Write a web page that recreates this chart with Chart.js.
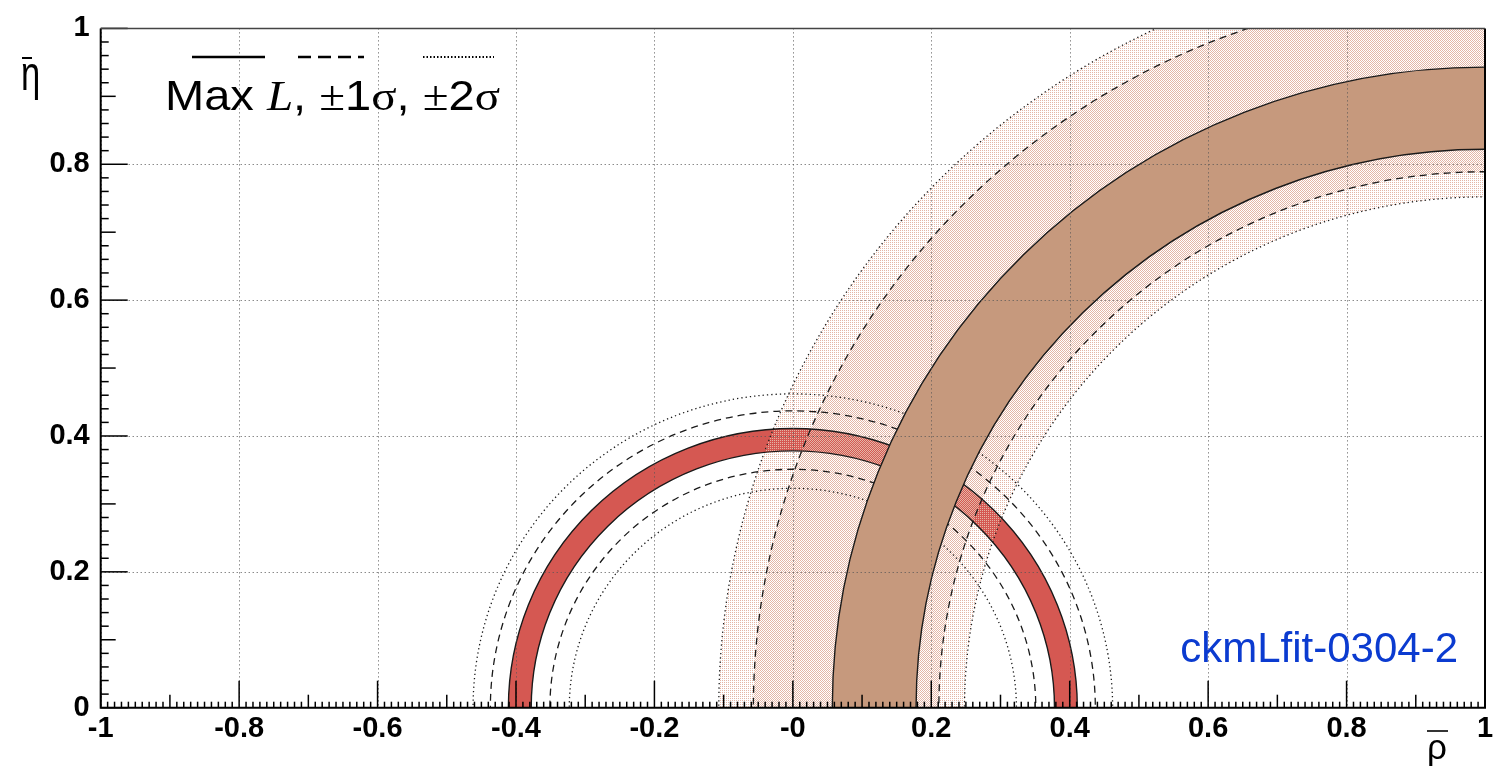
<!DOCTYPE html>
<html><head><meta charset="utf-8">
<script src="https://cdn.jsdelivr.net/npm/chart.js@4"></script>
<style>html,body{margin:0;padding:0;background:#fff;}canvas{display:block}</style>
</head><body>
<canvas id="c" width="1504" height="774"></canvas>
<script>
// ---- data ----
const xTickValues = [-1, -0.8, -0.6, -0.4, -0.2, 0, 0.2, 0.4, 0.6, 0.8, 1];
const xTickLabels = ['-1', '-0.8', '-0.6', '-0.4', '-0.2', '-0', '0.2', '0.4', '0.6', '0.8', '1'];
const yTickValues = [0, 0.2, 0.4, 0.6, 0.8, 1];
const yTickLabels = ['0', '0.2', '0.4', '0.6', '0.8', '1'];

const bandNames   = ['|Vub/Vcb|', 'Δmd'];
const bandCenterX = [0, 1];
const bandCenterY = [0, 0];
const maxLInner   = [0.378, 0.822];
const maxLOuter   = [0.411, 0.943];
const sigma1Inner = [0.351, 0.789];
const sigma1Outer = [0.437, 1.057];
const sigma2Inner = [0.323, 0.752];
const sigma2Outer = [0.462, 1.107];

const tagText = 'ckmLfit-0304-2';

// ---- styles ----
const RED = 'rgb(213,88,82)';
const BROWN = 'rgb(198,153,125)';
const DOT = 'rgb(228,182,166)';

function makePattern(dense) {
  const c = document.createElement('canvas');
  c.width = 2; c.height = 2;
  const g = c.getContext('2d');
  g.fillStyle = DOT;
  g.fillRect(0, 0, 1, 1);
  if (dense) g.fillRect(1, 1, 1, 1);
  return g.createPattern(c, 'repeat');
}

const bandPlugin = {
  id: 'bands',
  afterDatasetsDraw(chart) {
    const ctx = chart.ctx, a = chart.chartArea;
    const xs = chart.scales.x, ys = chart.scales.y;
    const px = v => xs.getPixelForValue(v), py = v => ys.getPixelForValue(v);
    const sparse = makePattern(false), dense = makePattern(true);
    function ell(i, r) {
      const cx = bandCenterX[i], cy = bandCenterY[i];
      return {cx: px(cx), cy: py(cy),
              rx: Math.abs(px(cx + r) - px(cx)), ry: Math.abs(py(cy + r) - py(cy))};
    }
    function annulus(i, r1, r2, style) {
      const e1 = ell(i, r1), e2 = ell(i, r2);
      ctx.beginPath();
      ctx.ellipse(e2.cx, e2.cy, e2.rx, e2.ry, 0, 0, 2 * Math.PI);
      ctx.moveTo(e1.cx + e1.rx, e1.cy);
      ctx.ellipse(e1.cx, e1.cy, e1.rx, e1.ry, 0, 0, 2 * Math.PI);
      ctx.fillStyle = style;
      ctx.fill('evenodd');
    }
    function ring(i, r, dash, lw) {
      const e = ell(i, r);
      ctx.beginPath();
      ctx.ellipse(e.cx, e.cy, e.rx, e.ry, 0, 0, 2 * Math.PI);
      ctx.setLineDash(dash);
      ctx.lineWidth = lw;
      ctx.strokeStyle = '#1a1a1a';
      ctx.stroke();
      ctx.setLineDash([]);
    }
    function lines(i) {
      ring(i, sigma2Inner[i], [1.3, 3], 1.3);
      ring(i, sigma2Outer[i], [1.3, 3], 1.3);
      ring(i, sigma1Inner[i], [7, 5], 1.3);
      ring(i, sigma1Outer[i], [7, 5], 1.3);
      ring(i, maxLInner[i], [], 1.4);
      ring(i, maxLOuter[i], [], 1.4);
    }
    ctx.save();
    ctx.beginPath();
    ctx.rect(a.left, a.top, a.right - a.left, a.bottom - a.top);
    ctx.clip();
    annulus(0, maxLInner[0], maxLOuter[0], RED);
    annulus(1, sigma2Inner[1], sigma2Outer[1], sparse);
    annulus(1, sigma1Inner[1], sigma1Outer[1], dense);
    lines(0);
    annulus(1, maxLInner[1], maxLOuter[1], BROWN);
    lines(1);
    // dotted grid on top
    ctx.strokeStyle = '#555';
    ctx.lineWidth = 1;
    ctx.setLineDash([1, 3]);
    xTickValues.forEach(v => {
      const p = Math.round(px(v)) + 0.5;
      ctx.beginPath(); ctx.moveTo(p, a.top); ctx.lineTo(p, a.bottom); ctx.stroke();
    });
    yTickValues.forEach(v => {
      const p = Math.round(py(v)) + 0.5;
      ctx.beginPath(); ctx.moveTo(a.left, p); ctx.lineTo(a.right, p); ctx.stroke();
    });
    ctx.restore();

    // ticks (inward)
    ctx.save();
    ctx.strokeStyle = '#000';
    ctx.lineWidth = 1.5;
    for (let k = -100; k <= 100; k++) {
      const len = k % 20 === 0 ? 27 : (k % 10 === 0 ? 13 : 6);
      const p = px(k / 100);
      ctx.beginPath(); ctx.moveTo(p, a.bottom); ctx.lineTo(p, a.bottom - len); ctx.stroke();
    }
    for (let k = 0; k <= 50; k++) {
      const len = k % 10 === 0 ? 27 : (k % 5 === 0 ? 15 : 8);
      const p = py(k / 50);
      ctx.beginPath(); ctx.moveTo(a.left, p); ctx.lineTo(a.left + len, p); ctx.stroke();
    }
    // frame
    ctx.lineWidth = 2;
    ctx.beginPath();
    ctx.moveTo(a.left, a.top); ctx.lineTo(a.left, a.bottom); ctx.lineTo(a.right, a.bottom); ctx.lineTo(a.right, a.top);
    ctx.stroke();
    ctx.strokeStyle = '#444';
    ctx.lineWidth = 1.5;
    ctx.beginPath(); ctx.moveTo(a.left, a.top); ctx.lineTo(a.right, a.top); ctx.stroke();

    // legend samples
    ctx.strokeStyle = '#000';
    ctx.lineWidth = 2.5;
    ctx.beginPath(); ctx.moveTo(192, 57); ctx.lineTo(265, 57); ctx.stroke();
    ctx.setLineDash([13, 7]);
    ctx.beginPath(); ctx.moveTo(298, 57); ctx.lineTo(364, 57); ctx.stroke();
    ctx.setLineDash([1.5, 2]);
    ctx.lineWidth = 2;
    ctx.beginPath(); ctx.moveTo(423, 57); ctx.lineTo(494, 57); ctx.stroke();
    ctx.setLineDash([]);

    // legend text
    const sans = '42px "Liberation Sans"', serif = '42px "Liberation Serif"', ital = 'italic 42px "Liberation Serif"';
    const parts = [['Max ', sans], ['L', ital], [', ', sans], ['±', serif], ['1', sans], ['σ', serif],
                   [', ', sans], ['±', serif], ['2', sans], ['σ', serif]];
    ctx.save();
    ctx.translate(165, 110);
    ctx.scale(1.12, 1);
    ctx.fillStyle = '#000';
    ctx.textBaseline = 'alphabetic';
    ctx.textAlign = 'left';
    let xx = 0;
    parts.forEach(([t, f]) => { ctx.font = f; ctx.fillText(t, xx, 0); xx += ctx.measureText(t).width; });
    ctx.restore();

    // tag
    ctx.font = '42px "Liberation Sans"';
    ctx.fillStyle = '#0b3bd0';
    ctx.textAlign = 'right';
    ctx.fillText(tagText, 1458, 662);

    // axis titles
    ctx.fillStyle = '#000';
    ctx.textAlign = 'left';
    ctx.save();
    ctx.translate(21, 90);
    ctx.scale(0.72, 1);
    ctx.font = '48px "Liberation Sans"';
    ctx.fillText('η', 0, 0);
    ctx.restore();
    ctx.lineWidth = 2;
    ctx.beginPath(); ctx.moveTo(22, 58); ctx.lineTo(32, 58); ctx.stroke();

    ctx.font = '35px "Liberation Sans"';
    ctx.fillText('ρ', 1427, 759);
    ctx.lineWidth = 1.6;
    ctx.beginPath(); ctx.moveTo(1427, 731); ctx.lineTo(1448, 731); ctx.stroke();
    ctx.restore();
  }
};

new Chart(document.getElementById('c'), {
  type: 'scatter',
  data: {
    datasets: bandNames.map((n, i) => ({
      label: n,
      data: [{x: bandCenterX[i], y: bandCenterY[i]}],
      pointRadius: 0,
      showLine: false
    }))
  },
  options: {
    responsive: false,
    animation: false,
    devicePixelRatio: 1,
    layout: {padding: {top: 23.3, right: 19, left: 0, bottom: 0}},
    plugins: {legend: {display: false}, tooltip: {enabled: false}},
    scales: {
      x: {
        type: 'linear', min: -1, max: 1,
        afterBuildTicks: s => { s.ticks = xTickValues.map(v => ({value: v})); },
        afterFit: s => { s.height = 66.3; },
        grid: {display: false, drawTicks: false},
        border: {display: false},
        ticks: {
          callback: (v, i) => xTickLabels[i],
          font: {family: 'Liberation Sans', size: 29, weight: 'bold'},
          color: '#000', padding: 4, maxRotation: 0, autoSkip: false
        }
      },
      y: {
        type: 'linear', min: 0, max: 1,
        afterBuildTicks: s => { s.ticks = yTickValues.map(v => ({value: v})); },
        afterFit: s => { s.width = 100.7; },
        grid: {display: false, drawTicks: false},
        border: {display: false},
        ticks: {
          callback: (v, i) => yTickLabels[i],
          font: {family: 'Liberation Sans', size: 29, weight: 'bold'},
          color: '#000', padding: 11, autoSkip: false
        }
      }
    }
  },
  plugins: [bandPlugin]
});
</script>
</body></html>
